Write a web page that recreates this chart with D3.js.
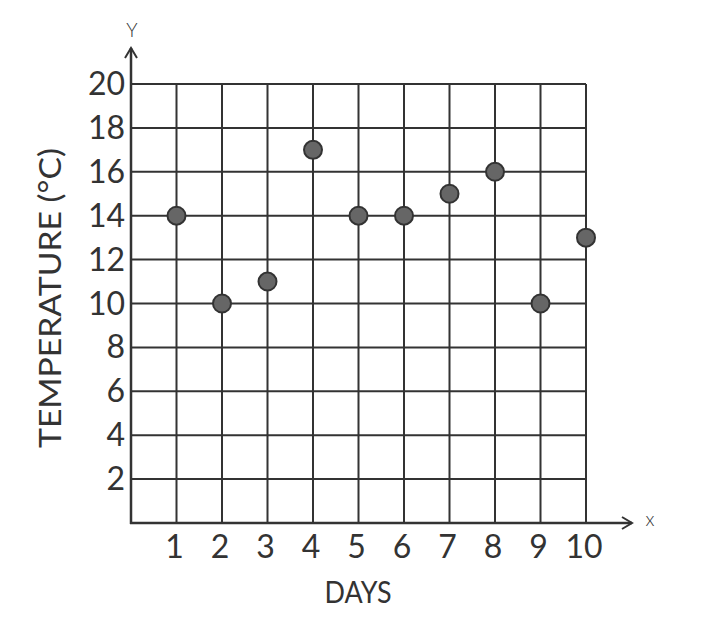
<!DOCTYPE html>
<html><head><meta charset="utf-8">
<script src="https://cdn.jsdelivr.net/npm/d3@7"></script>
<style>body{margin:0;background:#fff}text{font-family:"Lato","Open Sans",sans-serif;fill:#333}</style>
</head><body>
<svg id="c" width="708" height="638"></svg>
<script>
const days = [1,2,3,4,5,6,7,8,9,10];
const temps = [14,10,11,17,14,14,15,16,10,13];
const yTicks = [2,4,6,8,10,12,14,16,18,20];
const xLabel = "DAYS";
const yLabel = "TEMPERATURE (°C)";

const svg = d3.select("#c");
const x = d3.scaleLinear().domain([0,10]).range([131,586]);
const y = d3.scaleLinear().domain([0,20]).range([523,84]);
const ink = "#333";

// grid
svg.append("g").selectAll("line").data(days).join("line")
  .attr("x1",d=>x(d)).attr("x2",d=>x(d)).attr("y1",y(0)).attr("y2",y(20))
  .attr("stroke",ink).attr("stroke-width",2);
svg.append("g").selectAll("line").data(yTicks).join("line")
  .attr("x1",x(0)).attr("x2",x(10)).attr("y1",d=>y(d)).attr("y2",d=>y(d))
  .attr("stroke",ink).attr("stroke-width",2);

// axes with arrows
svg.append("line").attr("x1",x(0)).attr("x2",x(0)).attr("y1",y(0)+1).attr("y2",48)
  .attr("stroke",ink).attr("stroke-width",2.5);
svg.append("path").attr("d",`M${x(0)-6},${58} L${x(0)},${48} L${x(0)+6},${58}`)
  .attr("fill","none").attr("stroke",ink).attr("stroke-width",2);
svg.append("line").attr("x1",x(0)-1).attr("x2",632).attr("y1",y(0)).attr("y2",y(0))
  .attr("stroke",ink).attr("stroke-width",2.5);
svg.append("path").attr("d",`M622,${y(0)-6} L632,${y(0)} L622,${y(0)+6}`)
  .attr("fill","none").attr("stroke",ink).attr("stroke-width",2);
svg.append("text").attr("x",x(0)+1).attr("y",37).attr("text-anchor","middle")
  .style("font-size","19px").style("font-weight","300").text("Y");
svg.append("text").attr("x",650).attr("y",y(0)+3).attr("text-anchor","middle")
  .style("font-size","19px").style("font-weight","300").text("x");

// tick labels
svg.append("g").selectAll("text").data(yTicks).join("text")
  .attr("x",125).attr("y",d=>y(d)+11).attr("text-anchor","end")
  .style("font-size","32px").text(d=>d);
svg.append("g").selectAll("text").data(days).join("text")
  .attr("x",d=>x(d)-2).attr("y",558).attr("text-anchor","middle")
  .style("font-size","32px").text(d=>d);

// titles
svg.append("text").attr("x",358).attr("y",603).attr("text-anchor","middle")
  .style("font-size","30px").attr("textLength",67).attr("lengthAdjust","spacingAndGlyphs").text(xLabel);
svg.append("text").attr("transform","translate(61,298) rotate(-90)").attr("text-anchor","middle")
  .style("font-size","31px").attr("textLength",300).attr("lengthAdjust","spacingAndGlyphs").text(yLabel);

// points
svg.append("g").selectAll("circle").data(days).join("circle")
  .attr("cx",d=>x(d)).attr("cy",(d,i)=>y(temps[i])).attr("r",9)
  .attr("fill","#666").attr("stroke","#333").attr("stroke-width",2);
</script>
</body></html>
